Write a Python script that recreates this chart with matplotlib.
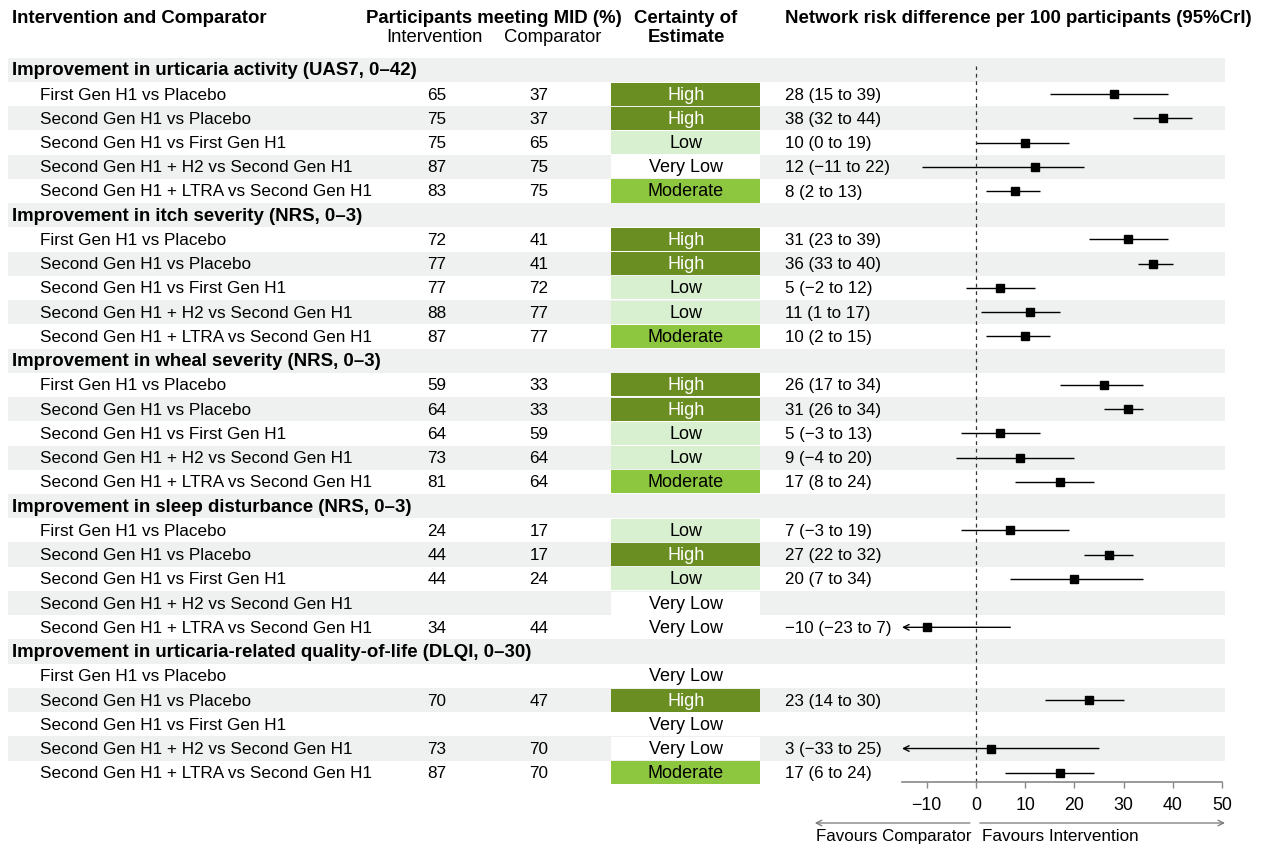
import matplotlib
matplotlib.use('Agg')
import matplotlib.pyplot as plt

plt.rcParams['font.family'] = ['Liberation Sans', 'DejaVu Sans']

# ---------------- data ----------------
sections = [
    "Improvement in urticaria activity (UAS7, 0\u201342)",
    "Improvement in itch severity (NRS, 0\u20133)",
    "Improvement in wheal severity (NRS, 0\u20133)",
    "Improvement in sleep disturbance (NRS, 0\u20133)",
    "Improvement in urticaria-related quality-of-life (DLQI, 0\u201330)",
]
comparisons = [
    "First Gen H1 vs Placebo",
    "Second Gen H1 vs Placebo",
    "Second Gen H1 vs First Gen H1",
    "Second Gen H1 + H2 vs Second Gen H1",
    "Second Gen H1 + LTRA vs Second Gen H1",
]
intervention = [[65, 75, 75, 87, 83], [72, 77, 77, 88, 87], [59, 64, 64, 73, 81],
                [24, 44, 44, None, 34], [None, 70, None, 73, 87]]
comparator = [[37, 37, 65, 75, 75], [41, 41, 72, 77, 77], [33, 33, 59, 64, 64],
              [17, 17, 24, None, 44], [None, 47, None, 70, 70]]
certainty = [["High", "High", "Low", "Very Low", "Moderate"],
             ["High", "High", "Low", "Low", "Moderate"],
             ["High", "High", "Low", "Low", "Moderate"],
             ["Low", "High", "Low", "Very Low", "Very Low"],
             ["Very Low", "High", "Very Low", "Very Low", "Moderate"]]
rd_est = [[28, 38, 10, 12, 8], [31, 36, 5, 11, 10], [26, 31, 5, 9, 17],
          [7, 27, 20, None, -10], [None, 23, None, 3, 17]]
rd_low = [[15, 32, 0, -11, 2], [23, 33, -2, 1, 2], [17, 26, -3, -4, 8],
          [-3, 22, 7, None, -23], [None, 14, None, -33, 6]]
rd_high = [[39, 44, 19, 22, 13], [39, 40, 12, 17, 15], [34, 34, 13, 20, 24],
           [19, 32, 34, None, 7], [None, 30, None, 25, 24]]
axis_ticks = [-10, 0, 10, 20, 30, 40, 50]

# ---------------- style ----------------
cert_colors = {"High": "#6b8e23", "Moderate": "#8dc63f", "Low": "#d8f0d0", "Very Low": "#ffffff"}
cert_text = {"High": "white", "Moderate": "black", "Low": "black", "Very Low": "black"}
stripe = "#eef1ef"
FS = 12.3      # body
HFS = 13.4     # bold headers
SFS = 13.3     # sub headers
CFS = 13.0     # certainty
RFS = 12.2     # risk difference text
W, H = 1262, 845
Y0, DY = 70.8, 24.24


def py(p):
    return (p - Y0) / DY


def fmt(v):
    return str(v).replace('-', '\u2212')


fig = plt.figure(figsize=(W / 100, H / 100), dpi=100)
ax = fig.add_axes([0, 0, 1, 1])
ax.set_xlim(0, W)
ax.set_ylim(py(H), py(0))
ax.axis('off')

# headers
ax.text(12, py(18), "Intervention and Comparator", fontsize=HFS, fontweight='bold', va='center')
ax.text(494, py(18), "Participants meeting MID (%)", fontsize=HFS, fontweight='bold', va='center', ha='center')
ax.text(434, py(37), "Intervention", fontsize=SFS, va='center', ha='center')
ax.text(553, py(37), "Comparator", fontsize=SFS, va='center', ha='center')
ax.text(686, py(18), "Certainty of", fontsize=HFS, fontweight='bold', va='center', ha='center')
ax.text(686, py(37), "Estimate", fontsize=HFS, fontweight='bold', va='center', ha='center')
ax.text(785, py(18), "Network risk difference per 100 participants (95%CrI)", fontsize=HFS,
        fontweight='bold', va='center')

# forest axes
fa = fig.add_axes([902 / W, 1 - 783 / H, 320 / W, (783 - 60) / H])
fa.set_xlim(-15, 50)
fa.set_ylim(py(783), py(60))
fa.patch.set_alpha(0)
for s in ['top', 'right', 'left']:
    fa.spines[s].set_visible(False)
fa.spines['bottom'].set_color('#888888')
fa.spines['bottom'].set_linewidth(1.2)
fa.set_yticks([])
fa.set_xticks(axis_ticks)
fa.set_xticklabels([fmt(t) for t in axis_ticks], fontsize=12.8)
fa.tick_params(axis='x', length=4, color='#888888', width=1.0, pad=6)

n_rows = len(sections) * (len(comparisons) + 1)
for r in range(0, n_rows, 2):
    ax.barh(r, 1217, left=8, height=1.0, color=stripe, zorder=0)

for s, title in enumerate(sections):
    r0 = s * (len(comparisons) + 1)
    ax.text(12, r0, title, fontsize=HFS, fontweight='bold', va='center')
    for k, comp in enumerate(comparisons):
        r = r0 + 1 + k
        ax.text(40, r, comp, fontsize=FS, va='center')
        if intervention[s][k] is not None:
            ax.text(437, r, str(intervention[s][k]), fontsize=FS, va='center', ha='center')
        if comparator[s][k] is not None:
            ax.text(539, r, str(comparator[s][k]), fontsize=FS, va='center', ha='center')
        c = certainty[s][k]
        ax.barh(r, 149, left=611, height=0.95, color=cert_colors[c], zorder=1)
        ax.text(686, r, c, fontsize=CFS, va='center', ha='center', color=cert_text[c], zorder=2)
        e = rd_est[s][k]
        if e is None:
            continue
        lo, hi = rd_low[s][k], rd_high[s][k]
        ax.text(785, r, f"{fmt(e)} ({fmt(lo)} to {fmt(hi)})", fontsize=RFS, va='center')
        if lo < -15:
            fa.annotate('', xy=(-15, r), xytext=(hi, r), annotation_clip=False,
                        arrowprops=dict(arrowstyle='->', lw=1.0, color='black',
                                        shrinkA=0, shrinkB=0, mutation_scale=10))
        else:
            fa.hlines(r, lo, hi, color='black', lw=1.0)
        fa.plot(e, r, 's', ms=5.5, color='black', zorder=5)

fa.vlines(0, py(783), py(67), colors='#333333', linestyles=(0, (3, 3)), lw=0.9)

# favours arrows
fa.annotate('', xy=(-32.7, py(824)), xytext=(-1.2, py(824)), annotation_clip=False,
            arrowprops=dict(arrowstyle='->', lw=0.9, color='#777777', shrinkA=0, shrinkB=0))
fa.annotate('', xy=(50.6, py(824)), xytext=(0.8, py(824)), annotation_clip=False,
            arrowprops=dict(arrowstyle='->', lw=0.9, color='#777777', shrinkA=0, shrinkB=0))
ax.text(971, py(837), "Favours Comparator", fontsize=12.2, va='center', ha='right')
ax.text(982, py(837), "Favours Intervention", fontsize=12.3, va='center', ha='left')

fig.savefig('out.png', dpi=100)
